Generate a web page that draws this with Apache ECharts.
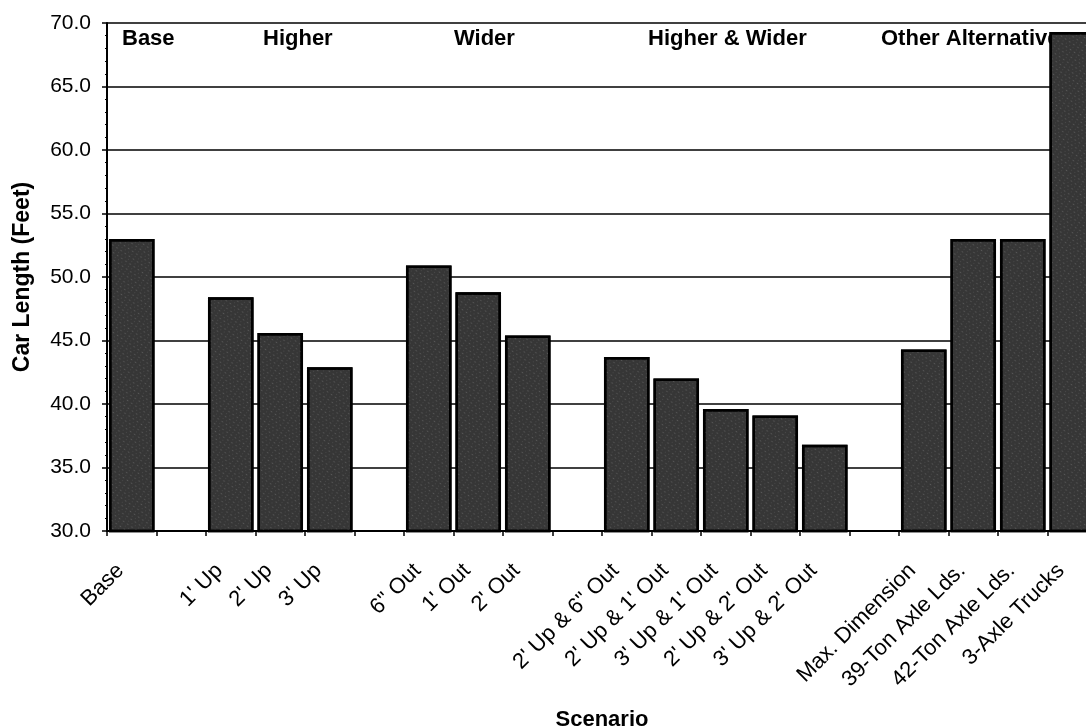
<!DOCTYPE html>
<html><head><meta charset="utf-8">
<script src="https://cdn.jsdelivr.net/npm/echarts@6/dist/echarts.min.js"></script>
<style>html,body{margin:0;padding:0;background:#fff}#c{width:1086px;height:728px}</style>
</head><body><div id="c"></div>
<script>
// Categories (blank entries are the spacer slots between scenario groups)
const categories = [
  'Base', '',
  "1' Up", "2' Up", "3' Up", '',
  '6" Out', "1' Out", "2' Out", '',
  "2' Up & 6\" Out", "2' Up & 1' Out", "3' Up & 1' Out", "2' Up & 2' Out", "3' Up & 2' Out", '',
  'Max. Dimension', '39-Ton Axle Lds.', '42-Ton Axle Lds.', '3-Axle Trucks'
];
// Car length (feet)
const carLength = [
  53.0, null,
  48.4, 45.6, 42.9, null,
  50.9, 48.8, 45.4, null,
  43.7, 42.0, 39.6, 39.1, 36.8, null,
  44.3, 53.0, 53.0, 69.3
];
const groupLabels = ['Base', 'Higher', 'Wider', 'Higher & Wider', 'Other Alternatives'];
const yMin = 30, yMax = 70, yStep = 5;

const FONT = '"Liberation Sans", Arial, sans-serif';
const groupLabelLeft = [122, 263, 454, 648, 881];

const chart = echarts.init(document.getElementById('c'), null, {renderer: 'canvas'});
chart.setOption({
  animation: false,
  backgroundColor: '#fff',
  textStyle: {fontFamily: FONT, color: '#000'},
  grid: {left: 107, right: -11, top: 23, bottom: 197, containLabel: false, outerBoundsMode: 'none'},
  xAxis: {
    type: 'category',
    data: categories,
    name: 'Scenario',
    nameLocation: 'middle',
    nameGap: 178,
    nameTextStyle: {fontFamily: FONT, fontSize: 22, fontWeight: 'bold', color: '#000'},
    axisLine: {lineStyle: {color: '#000', width: 2}},
    axisTick: {show: true, alignWithLabel: false, length: 5, lineStyle: {color: '#000', width: 1.5}},
    axisLabel: {
      interval: 0, rotate: 45, margin: 25,
      formatter: v => '{t|' + v + '}',
      rich: {t: {fontFamily: FONT, fontSize: 22, color: '#000', padding: [0, 16, 0, 0]}},
      fontFamily: FONT, fontSize: 22, color: '#000'
    },
    splitLine: {show: false}
  },
  yAxis: {
    type: 'value',
    min: yMin, max: yMax, interval: yStep,
    name: 'Car Length (Feet)',
    nameLocation: 'middle',
    nameGap: 73,
    nameTextStyle: {fontFamily: FONT, fontSize: 23, fontWeight: 'bold', color: '#000'},
    axisLine: {show: true, lineStyle: {color: '#000', width: 2}},
    axisTick: {show: true, length: 5, lineStyle: {color: '#000', width: 1.5}},
    minorTick: {show: true, splitNumber: 5, length: 2, lineStyle: {color: '#000', width: 1}},
    axisLabel: {
      margin: 16, fontFamily: FONT, fontSize: 21, color: '#000',
      formatter: v => v.toFixed(1)
    },
    splitLine: {show: true, lineStyle: {color: '#000', width: 1.5}}
  },
  graphic: groupLabels.map((t, i) => ({
    type: 'text', z: 0, zlevel: 0,
    left: groupLabelLeft[i], top: 28,
    style: {text: t, fontFamily: FONT, fontSize: 22, fontWeight: 'bold', fill: '#000'}
  })),
  series: [{
    type: 'bar',
    data: carLength,
    z: 5,
    barCategoryGap: '8%',
    itemStyle: {
      color: '#363636',
      borderColor: '#000',
      borderWidth: 2.5,
      decal: {
        symbol: 'rect', symbolSize: 0.5, color: 'rgba(255,255,255,0.35)',
        dashArrayX: [[1, 3], [3, 2]], dashArrayY: [1, 2], rotation: 0.6
      }
    }
  }]
});
</script>
</body></html>
